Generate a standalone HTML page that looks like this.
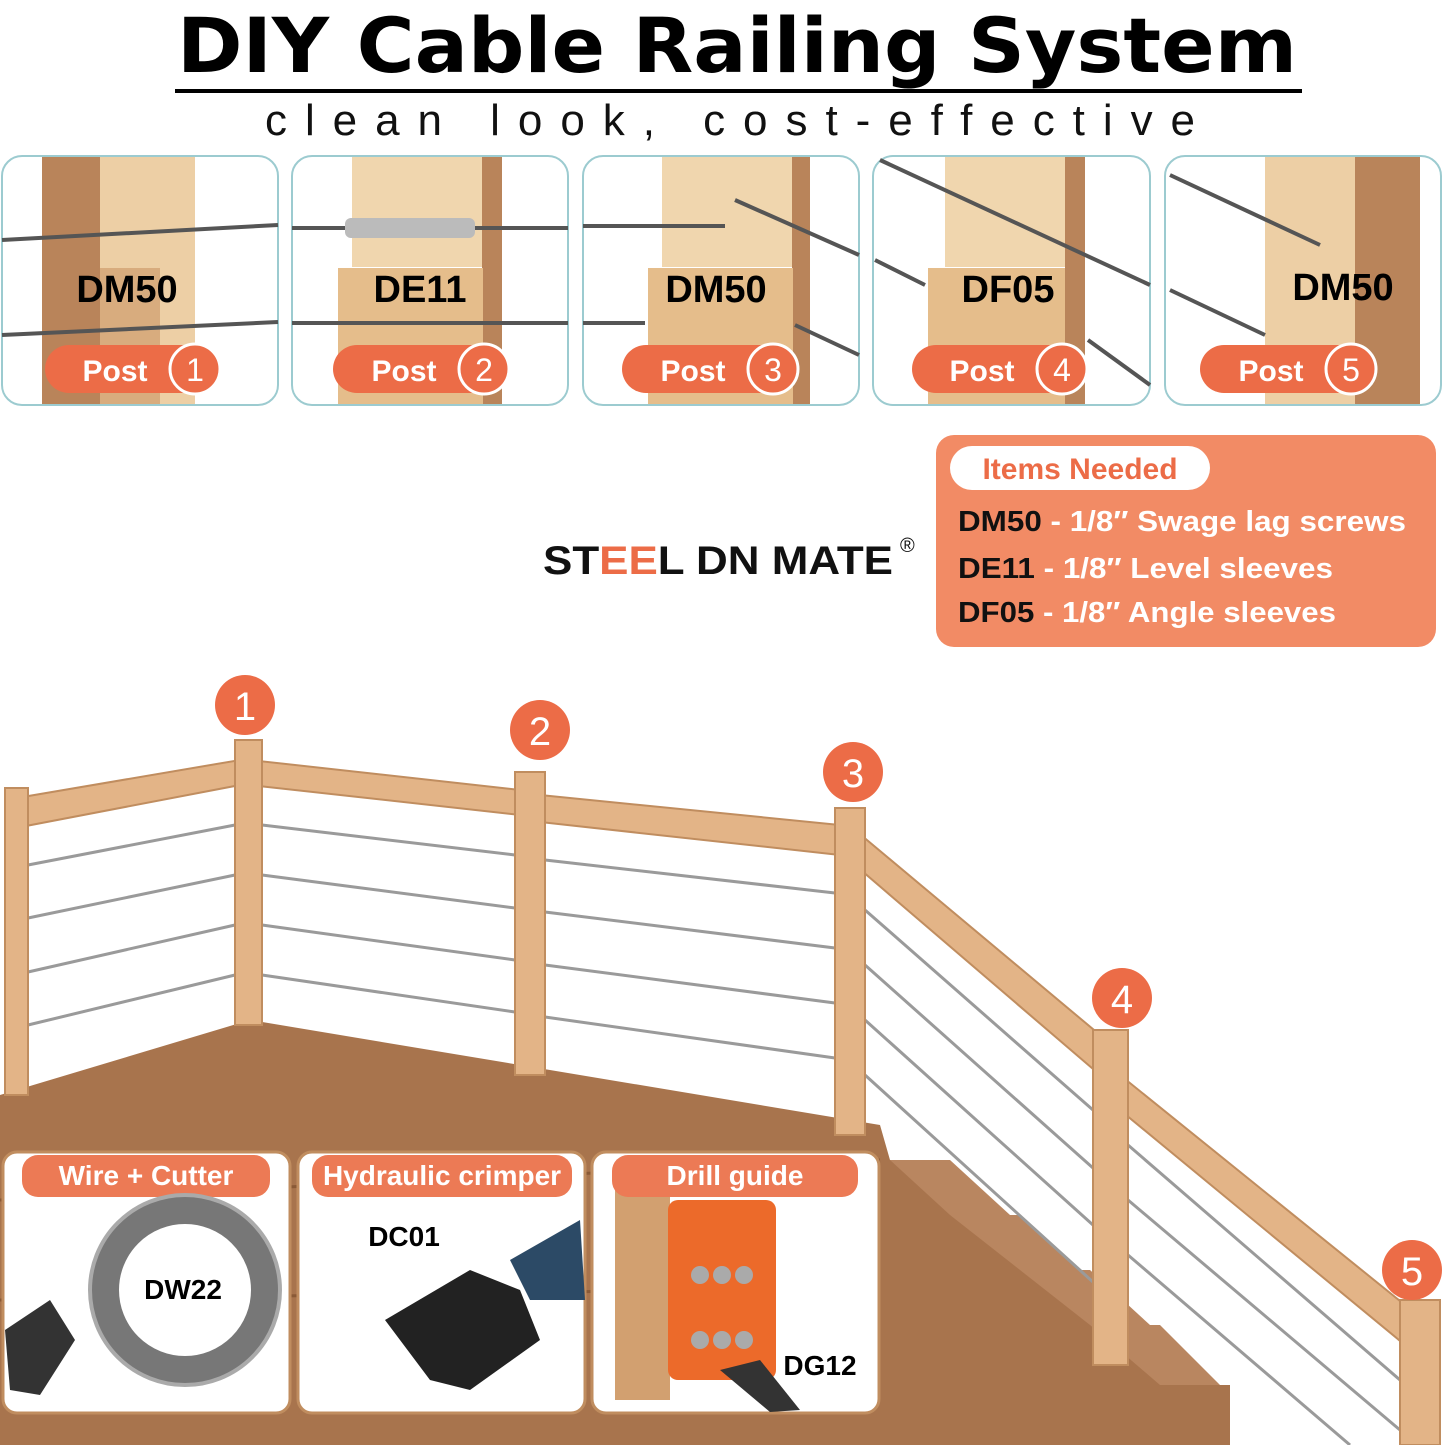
<!DOCTYPE html>
<html><head><meta charset="utf-8"><style>
body{margin:0;background:#fff;width:1445px;height:1445px;overflow:hidden;font-family:"Liberation Sans","DejaVu Sans",sans-serif}
</style></head><body>
<svg width="1445" height="1445" viewBox="0 0 1445 1445" xmlns="http://www.w3.org/2000/svg" font-family="Liberation Sans, DejaVu Sans, sans-serif">
<text x="177" y="72" textLength="1120" lengthAdjust="spacingAndGlyphs" font-size="76" font-family="DejaVu Sans, Liberation Sans, sans-serif" font-weight="bold" fill="#000">DIY Cable Railing System</text>
<rect x="175" y="89" width="1127" height="4" fill="#000"/>
<text x="265" y="135" textLength="930" lengthAdjust="spacing" font-size="44" fill="#111">clean look, cost-effective</text>

<!-- top panels -->
<g id="panels">
<g>
<rect x="2" y="156" width="276" height="249" rx="20" fill="#fff" stroke="#9ccbd0" stroke-width="2"/>
<rect x="42" y="157" width="58" height="247" fill="#b9845a"/><rect x="100" y="157" width="95" height="247" fill="#edcfa5"/>
<rect x="100" y="268" width="60" height="136" fill="#d8ac7e"/>
<line x1="2" y1="240" x2="278" y2="225" stroke="#555" stroke-width="4"/><line x1="2" y1="335" x2="278" y2="322" stroke="#555" stroke-width="4"/>
<text x="127" y="302" text-anchor="middle" font-size="38" font-weight="bold">DM50</text>
<rect x="45" y="345" width="175" height="48" rx="24" fill="#ec6c47"/><circle cx="195" cy="369" r="25" fill="#ec6c47" stroke="#fff" stroke-width="3"/>
<text x="115" y="381" text-anchor="middle" font-size="30" font-weight="bold" fill="#fff">Post</text><text x="195" y="381" text-anchor="middle" font-size="32" fill="#fff">1</text>
</g>
<g>
<rect x="292" y="156" width="276" height="249" rx="20" fill="#fff" stroke="#9ccbd0" stroke-width="2"/>
<rect x="352" y="157" width="130" height="110" fill="#f0d6ae"/><rect x="482" y="157" width="20" height="247" fill="#b9845a"/>
<rect x="338" y="268" width="145" height="136" fill="#e5bd8b"/>
<line x1="292" y1="228" x2="568" y2="228" stroke="#555" stroke-width="4"/><line x1="292" y1="323" x2="568" y2="323" stroke="#555" stroke-width="4"/>
<rect x="345" y="218" width="130" height="20" rx="6" fill="#bbb"/>
<text x="420" y="302" text-anchor="middle" font-size="38" font-weight="bold">DE11</text>
<rect x="333" y="345" width="175" height="48" rx="24" fill="#ec6c47"/><circle cx="484" cy="369" r="25" fill="#ec6c47" stroke="#fff" stroke-width="3"/>
<text x="404" y="381" text-anchor="middle" font-size="30" font-weight="bold" fill="#fff">Post</text><text x="484" y="381" text-anchor="middle" font-size="32" fill="#fff">2</text>
</g>
<g>
<rect x="583" y="156" width="276" height="249" rx="20" fill="#fff" stroke="#9ccbd0" stroke-width="2"/>
<rect x="662" y="157" width="130" height="110" fill="#f0d6ae"/><rect x="792" y="157" width="18" height="247" fill="#b9845a"/>
<rect x="648" y="268" width="145" height="136" fill="#e5bd8b"/>
<line x1="583" y1="226" x2="725" y2="226" stroke="#555" stroke-width="4"/><line x1="735" y1="200" x2="859" y2="255" stroke="#555" stroke-width="4"/>
<line x1="583" y1="323" x2="645" y2="323" stroke="#555" stroke-width="4"/><line x1="795" y1="325" x2="859" y2="355" stroke="#555" stroke-width="4"/>
<text x="716" y="302" text-anchor="middle" font-size="38" font-weight="bold">DM50</text>
<rect x="622" y="345" width="175" height="48" rx="24" fill="#ec6c47"/><circle cx="773" cy="369" r="25" fill="#ec6c47" stroke="#fff" stroke-width="3"/>
<text x="693" y="381" text-anchor="middle" font-size="30" font-weight="bold" fill="#fff">Post</text><text x="773" y="381" text-anchor="middle" font-size="32" fill="#fff">3</text>
</g>
<g>
<rect x="873" y="156" width="277" height="249" rx="20" fill="#fff" stroke="#9ccbd0" stroke-width="2"/>
<rect x="945" y="157" width="120" height="110" fill="#f0d6ae"/><rect x="1065" y="157" width="20" height="247" fill="#b9845a"/>
<rect x="928" y="268" width="137" height="136" fill="#e5bd8b"/>
<line x1="880" y1="160" x2="1150" y2="285" stroke="#555" stroke-width="4"/><line x1="875" y1="260" x2="925" y2="285" stroke="#555" stroke-width="4"/>
<line x1="1088" y1="340" x2="1150" y2="385" stroke="#555" stroke-width="4"/>
<text x="1008" y="302" text-anchor="middle" font-size="38" font-weight="bold">DF05</text>
<rect x="912" y="345" width="175" height="48" rx="24" fill="#ec6c47"/><circle cx="1062" cy="369" r="25" fill="#ec6c47" stroke="#fff" stroke-width="3"/>
<text x="982" y="381" text-anchor="middle" font-size="30" font-weight="bold" fill="#fff">Post</text><text x="1062" y="381" text-anchor="middle" font-size="32" fill="#fff">4</text>
</g>
<g>
<rect x="1165" y="156" width="276" height="249" rx="20" fill="#fff" stroke="#9ccbd0" stroke-width="2"/>
<rect x="1265" y="157" width="90" height="247" fill="#edcfa5"/><rect x="1355" y="157" width="65" height="247" fill="#b9845a"/>
<line x1="1170" y1="175" x2="1320" y2="245" stroke="#555" stroke-width="4"/><line x1="1170" y1="290" x2="1265" y2="335" stroke="#555" stroke-width="4"/>
<text x="1343" y="300" text-anchor="middle" font-size="38" font-weight="bold">DM50</text>
<rect x="1200" y="345" width="175" height="48" rx="24" fill="#ec6c47"/><circle cx="1351" cy="369" r="25" fill="#ec6c47" stroke="#fff" stroke-width="3"/>
<text x="1271" y="381" text-anchor="middle" font-size="30" font-weight="bold" fill="#fff">Post</text><text x="1351" y="381" text-anchor="middle" font-size="32" fill="#fff">5</text>
</g>
</g>

<!-- logo & items -->
<text x="543" y="574" textLength="350" lengthAdjust="spacingAndGlyphs" font-size="40" font-weight="bold" fill="#111">ST<tspan fill="#ec6c47">EE</tspan>L DN MATE</text>
<text x="900" y="552" font-size="20" fill="#111">®</text>
<rect x="936" y="435" width="500" height="212" rx="18" fill="#f28b65"/>
<rect x="950" y="446" width="260" height="44" rx="22" fill="#fff"/>
<text x="1080" y="479" text-anchor="middle" font-size="30" font-weight="bold" fill="#ec6c47">Items Needed</text>
<g font-size="29" font-weight="bold" fill="#fff">
<text x="958" y="531" textLength="448" lengthAdjust="spacingAndGlyphs"><tspan fill="#111">DM50</tspan> - 1/8″ Swage lag screws</text>
<text x="958" y="578" textLength="375" lengthAdjust="spacingAndGlyphs"><tspan fill="#111">DE11</tspan> - 1/8″ Level sleeves</text>
<text x="958" y="622" textLength="378" lengthAdjust="spacingAndGlyphs"><tspan fill="#111">DF05</tspan> - 1/8″ Angle sleeves</text>
</g>

<!-- deck -->
<polygon points="0,1095 250,1020 880,1125 890,1160 950,1160 950,1215 1020,1215 1020,1270 1090,1270 1090,1325 1160,1325 1160,1385 1230,1385 1230,1445 0,1445" fill="#a8744d"/>
<g fill="#b98660">
<polygon points="890,1160 950,1160 1010,1215 950,1215"/>
<polygon points="950,1215 1020,1215 1080,1270 1020,1270"/>
<polygon points="1020,1270 1090,1270 1150,1325 1090,1325"/>
<polygon points="1090,1325 1160,1325 1220,1385 1160,1385"/>
</g>
<g stroke="#8a5a37" stroke-width="3">
<line x1="0" y1="1200" x2="880" y2="1160"/><line x1="0" y1="1300" x2="700" y2="1290"/>
</g>
<!-- cables -->
<g stroke="#9a9a9a" stroke-width="3">
<line x1="28" y1="865" x2="235" y2="825"/><line x1="28" y1="918" x2="235" y2="875"/><line x1="28" y1="972" x2="235" y2="925"/><line x1="28" y1="1025" x2="235" y2="975"/>
<line x1="262" y1="825" x2="515" y2="855"/><line x1="262" y1="875" x2="515" y2="908"/><line x1="262" y1="925" x2="515" y2="960"/><line x1="262" y1="975" x2="515" y2="1012"/>
<line x1="545" y1="860" x2="835" y2="893"/><line x1="545" y1="912" x2="835" y2="948"/><line x1="545" y1="965" x2="835" y2="1003"/><line x1="545" y1="1017" x2="835" y2="1058"/>
<line x1="865" y1="910" x2="1093" y2="1110"/><line x1="865" y1="965" x2="1093" y2="1168"/><line x1="865" y1="1020" x2="1093" y2="1225"/><line x1="865" y1="1075" x2="1093" y2="1282"/>
<line x1="1128" y1="1145" x2="1400" y2="1380"/><line x1="1128" y1="1200" x2="1400" y2="1430"/><line x1="1128" y1="1255" x2="1350" y2="1445"/>
</g>
<!-- rails -->
<g fill="#e3b487" stroke="#c08d5f" stroke-width="2">
<polygon points="5,800 240,760 240,785 5,830"/>
<polygon points="250,760 520,790 520,815 250,785"/>
<polygon points="540,795 840,825 840,855 540,822"/>
<polygon points="855,830 1100,1035 1100,1075 855,865"/>
<polygon points="1120,1075 1405,1305 1405,1345 1120,1110"/>
<rect x="5" y="788" width="23" height="307"/>
<rect x="235" y="740" width="27" height="285"/>
<rect x="515" y="772" width="30" height="303"/>
<rect x="835" y="808" width="30" height="327"/>
<rect x="1093" y="1030" width="35" height="335"/>
<rect x="1400" y="1300" width="40" height="145"/>
</g>
<!-- number circles -->
<g fill="#ec6c47"><circle cx="245" cy="705" r="30"/><circle cx="540" cy="730" r="30"/><circle cx="853" cy="772" r="30"/><circle cx="1122" cy="998" r="30"/><circle cx="1412" cy="1270" r="30"/></g>
<g fill="#fff" font-size="40" text-anchor="middle"><text x="245" y="720">1</text><text x="540" y="745">2</text><text x="853" y="787">3</text><text x="1122" y="1013">4</text><text x="1412" y="1285">5</text></g>

<!-- bottom panels -->
<g>
<rect x="3" y="1152" width="287" height="261" rx="14" fill="#fff" stroke="#c08d5f" stroke-width="3"/>
<rect x="22" y="1155" width="248" height="42" rx="16" fill="#ec7a55"/>
<text x="146" y="1185" text-anchor="middle" font-size="28" font-weight="bold" fill="#fff">Wire + Cutter</text>
<circle cx="185" cy="1290" r="80" fill="none" stroke="#777" stroke-width="28"/>
<circle cx="185" cy="1290" r="95" fill="none" stroke="#aaa" stroke-width="4"/>
<text x="183" y="1299" text-anchor="middle" font-size="28" font-weight="bold">DW22</text>
<polygon points="5,1330 50,1300 75,1340 40,1395 10,1390" fill="#333"/>
</g>
<g>
<rect x="298" y="1152" width="287" height="261" rx="14" fill="#fff" stroke="#c08d5f" stroke-width="3"/>
<rect x="312" y="1155" width="260" height="42" rx="16" fill="#ec7a55"/>
<text x="442" y="1185" text-anchor="middle" font-size="28" font-weight="bold" fill="#fff">Hydraulic crimper</text>
<text x="404" y="1246" text-anchor="middle" font-size="28" font-weight="bold">DC01</text>
<polygon points="385,1320 470,1270 520,1290 540,1340 470,1390 430,1380" fill="#222"/>
<polygon points="510,1260 580,1220 585,1300 530,1300" fill="#2c4a66"/>
</g>
<g>
<rect x="592" y="1152" width="287" height="261" rx="14" fill="#fff" stroke="#c08d5f" stroke-width="3"/>
<rect x="615" y="1190" width="55" height="210" fill="#d2a070"/>
<rect x="612" y="1155" width="246" height="42" rx="16" fill="#ec7a55"/>
<text x="735" y="1185" text-anchor="middle" font-size="28" font-weight="bold" fill="#fff">Drill guide</text>
<rect x="668" y="1200" width="108" height="180" rx="10" fill="#ec6a2a"/>
<g fill="#aaa"><circle cx="700" cy="1275" r="9"/><circle cx="722" cy="1275" r="9"/><circle cx="744" cy="1275" r="9"/><circle cx="700" cy="1340" r="9"/><circle cx="722" cy="1340" r="9"/><circle cx="744" cy="1340" r="9"/></g>
<polygon points="720,1370 760,1360 800,1410 770,1412" fill="#333"/>
<text x="820" y="1375" text-anchor="middle" font-size="28" font-weight="bold">DG12</text>
</g>
</svg>
</body></html>
